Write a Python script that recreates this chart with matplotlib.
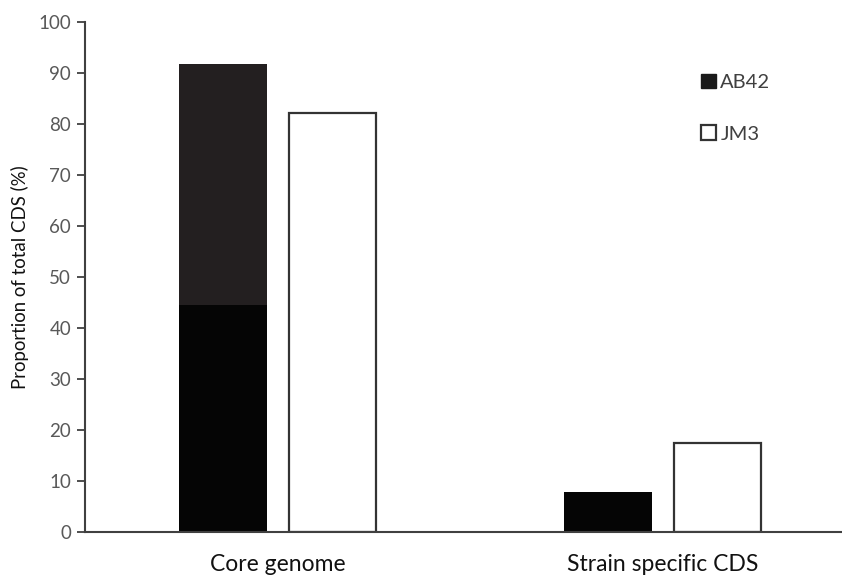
import matplotlib.pyplot as plt
import numpy as np
from matplotlib.patches import Patch

plt.rcParams["font.family"] = ["Lato", "DejaVu Sans"]

categories = ["Core genome", "Strain specific CDS"]
series = ["AB42", "JM3"]
# AB42 core bar is drawn in two shades in the original (lower black, upper dark grey)
ab42_lower = [44.6, 7.9]
ab42_total = [91.9, 7.9]
jm3_values = [82.2, 17.4]
yticks = list(range(0, 101, 10))

fig = plt.figure(figsize=(8.42, 5.78), dpi=100)
ax = fig.add_axes([0.101, 0.0796, 0.899, 0.8815])

x = np.arange(len(categories))
width = 0.228
offset = 0.1425

upper = np.array(ab42_total) - np.array(ab42_lower)
ax.bar(x - offset, ab42_lower, width, color="#050505", edgecolor="none")
ax.bar(x - offset, upper, width, bottom=ab42_lower, color="#231f20", edgecolor="none")
ax.bar(x + offset, jm3_values, width, color="white", edgecolor="#333333", linewidth=1.6)

ax.set_xlim(-0.5, 1.466)
ax.set_ylim(0, 100)
ax.set_yticks(yticks)
ax.set_xticks(x)
ax.set_xticklabels(categories, fontsize=16.5, color="#111111")
ax.tick_params(axis="x", length=0, pad=16)
ax.tick_params(axis="y", direction="out", length=6, width=1.3, color="#404040",
               labelsize=13.5, labelcolor="#595959", pad=4)
ax.set_ylabel("Proportion of total CDS (%)", fontsize=13.4, color="#111111", labelpad=7)

for s in ["top", "right"]:
    ax.spines[s].set_visible(False)
for s in ["left", "bottom"]:
    ax.spines[s].set_color("#404040")
    ax.spines[s].set_linewidth(1.5)

handles = [Patch(facecolor="#1a1a1a", edgecolor="#1a1a1a"),
           Patch(facecolor="white", edgecolor="#333333", linewidth=1.6)]
ax.legend(handles, series, loc="upper left", bbox_to_anchor=(0.79, 0.935),
          frameon=False, fontsize=14.5, labelcolor="#404040",
          handlelength=0.75, handleheight=0.75, handletextpad=0.2, labelspacing=1.7)

fig.savefig("out.png", dpi=100)
